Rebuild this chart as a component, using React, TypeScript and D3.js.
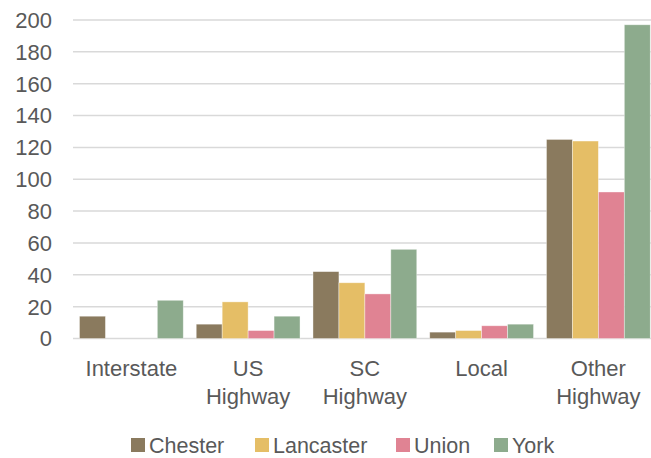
import React from "react";
import * as d3 from "d3";

const categories = [["Interstate"], ["US", "Highway"], ["SC", "Highway"], ["Local"], ["Other", "Highway"]];
const seriesNames = ["Chester", "Lancaster", "Union", "York"];
const chester = [14, 9, 42, 4, 125];
const lancaster = [0, 23, 35, 5, 124];
const union = [0, 5, 28, 8, 92];
const york = [24, 14, 56, 9, 197];
const yTicks = [0, 20, 40, 60, 80, 100, 120, 140, 160, 180, 200];
const colors = ["#8A7A5E", "#E5BE66", "#E08393", "#8DAB8D"];

const W = 651;
const H = 458;
const FONT = "'Liberation Sans', Arial, sans-serif";
const TEXT = "#595959";

export default function App() {
  const values = [chester, lancaster, union, york];
  const y = d3.scaleLinear().domain([0, 200]).range([338.5, 20]);
  const x = d3
    .scaleBand<number>()
    .domain(categories.map((_, i) => i))
    .range([73, 656.75])
    .paddingInner(0)
    .paddingOuter(0);
  const inner = d3
    .scaleBand<number>()
    .domain(seriesNames.map((_, i) => i))
    .range([0, x.bandwidth()])
    .paddingInner(0)
    .paddingOuter(0.25);

  const legendX = [131, 255, 396, 494];

  return (
    <svg
      width={W}
      height={H}
      style={{ position: "absolute", left: 0, top: 0, background: "#fff" }}
      fontFamily={FONT}
    >
      {yTicks.map((t) => (
        <g key={t}>
          <line x1={73} x2={W} y1={y(t)} y2={y(t)} stroke="#D9D9D9" strokeWidth={1.5} />
          <text x={52} y={y(t)} dy="0.36em" textAnchor="end" fontSize={22} fill={TEXT}>
            {t}
          </text>
        </g>
      ))}
      {categories.map((_, ci) =>
        values.map((vals, si) => {
          const v = vals[ci];
          if (!v) return null;
          const bx = (x(ci) as number) + (inner(si) as number);
          return (
            <rect
              key={ci + "-" + si}
              x={bx}
              y={y(v)}
              width={inner.bandwidth()}
              height={y(0) - y(v)}
              fill={colors[si]}
              stroke="#ffffff"
              strokeOpacity={0.5}
              strokeWidth={0.75}
            />
          );
        })
      )}
      {categories.map((lines, ci) => (
        <text
          key={"c" + ci}
          x={(x(ci) as number) + x.bandwidth() / 2}
          y={376}
          textAnchor="middle"
          fontSize={22}
          fill={TEXT}
        >
          {lines.map((l, li) => (
            <tspan key={li} x={(x(ci) as number) + x.bandwidth() / 2} dy={li === 0 ? 0 : 27.5}>
              {l}
            </tspan>
          ))}
        </text>
      ))}
      {seriesNames.map((s, si) => (
        <g key={s}>
          <rect x={legendX[si]} y={438} width={14} height={14} fill={colors[si]} />
          <text x={legendX[si] + 18} y={453} fontSize={21.5} fill={TEXT}>
            {s}
          </text>
        </g>
      ))}
    </svg>
  );
}
